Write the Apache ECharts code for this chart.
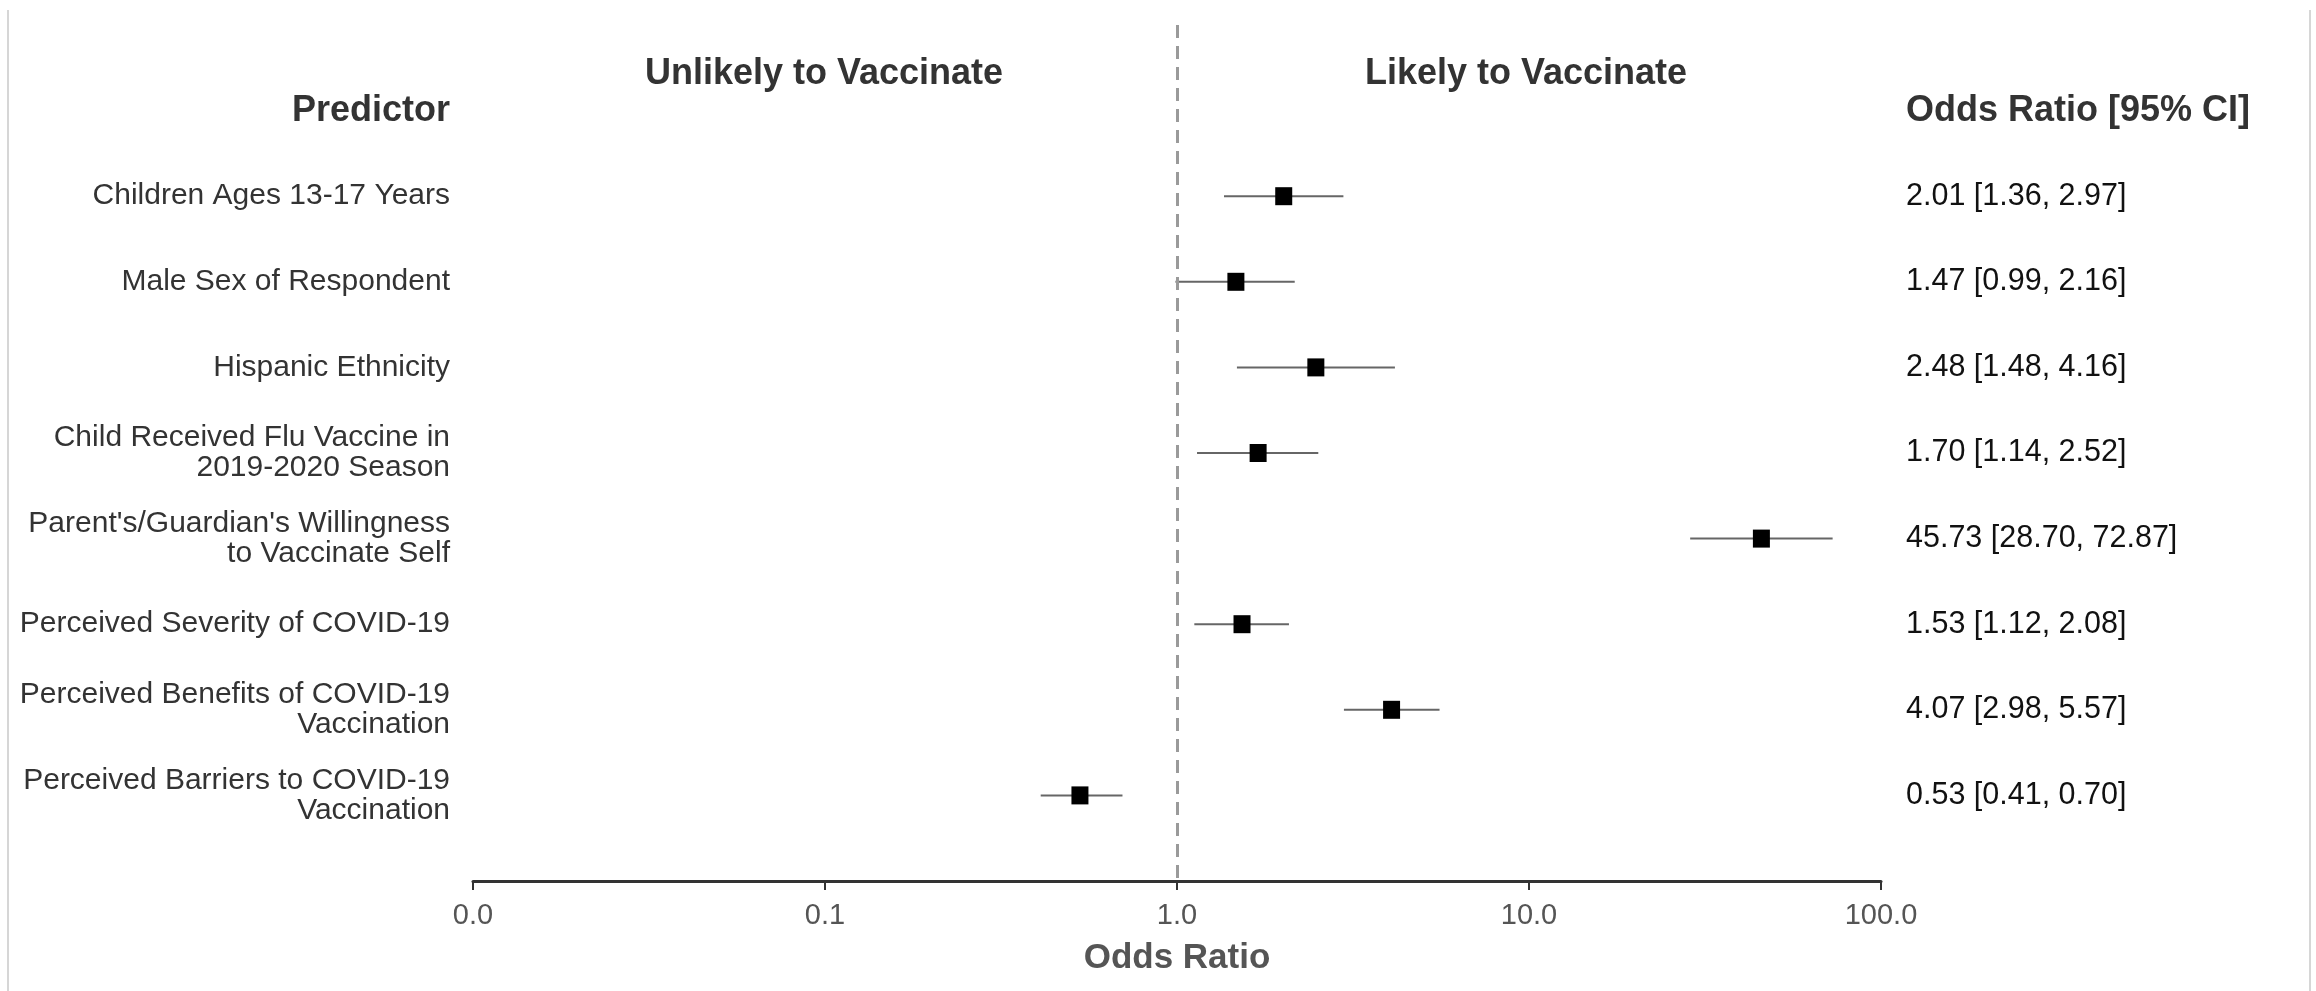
<!DOCTYPE html>
<html>
<head>
<meta charset="utf-8">
<title>Odds Ratio forest plot</title>
<script src="https://cdn.jsdelivr.net/npm/echarts@6/dist/echarts.min.js"></script>
<style>
  html, body { margin: 0; padding: 0; background: #fff; }
  #chart { width: 2316px; height: 991px; }
</style>
</head>
<body>
<div id="chart"></div>
<script>
// Predictors, top to bottom
const predictors = [
  'Children Ages 13-17 Years',
  'Male Sex of Respondent',
  'Hispanic Ethnicity',
  'Child Received Flu Vaccine in\n2019-2020 Season',
  "Parent's/Guardian's Willingness\nto Vaccinate Self",
  'Perceived Severity of COVID-19',
  'Perceived Benefits of COVID-19\nVaccination',
  'Perceived Barriers to COVID-19\nVaccination'
];
// Odds ratios and 95% confidence limits
const oddsRatio = [2.01, 1.47, 2.48, 1.70, 45.73, 1.53, 4.07, 0.53];
const ciLower   = [1.36, 0.99, 1.48, 1.14, 28.70, 1.12, 2.98, 0.41];
const ciUpper   = [2.97, 2.16, 4.16, 2.52, 72.87, 2.08, 5.57, 0.70];
// Odds-ratio axis range (log scale)
const xMin = 0.01, xMax = 100;

const FONT = '"Liberation Sans", Arial, Helvetica, sans-serif';
const TEXT = '#333333';

const rows = predictors.map((_, i) => i + 1);
const ciText = oddsRatio.map((v, i) =>
  v.toFixed(2) + ' [' + ciLower[i].toFixed(2) + ', ' + ciUpper[i].toFixed(2) + ']');

const chart = echarts.init(document.getElementById('chart'), null, { renderer: 'canvas' });

const yCommon = {
  type: 'value', inverse: true, min: -1, max: 9, interval: 1,
  axisLine: { show: false }, axisTick: { show: false }, splitLine: { show: false }
};

chart.setOption({
  backgroundColor: '#ffffff',
  animation: false,
  textStyle: { fontFamily: FONT },
  grid: { left: 473, right: 435, top: 25, bottom: 110, containLabel: false },
  graphic: [
    { type: 'line', shape: { x1: 8, y1: 10, x2: 8, y2: 991 }, style: { stroke: '#d6d6d6', lineWidth: 2 } },
    { type: 'line', shape: { x1: 2310, y1: 10, x2: 2310, y2: 991 }, style: { stroke: '#d6d6d6', lineWidth: 2 } },
    { type: 'text', x: 824, y: 74, style: { text: 'Unlikely to Vaccinate', font: 'bold 36px ' + FONT, fill: TEXT, textAlign: 'center', textVerticalAlign: 'middle' } },
    { type: 'text', x: 1526, y: 74, style: { text: 'Likely to Vaccinate', font: 'bold 36px ' + FONT, fill: TEXT, textAlign: 'center', textVerticalAlign: 'middle' } }
  ],
  xAxis: {
    type: 'log', logBase: 10, min: xMin, max: xMax, position: 'bottom',
    name: 'Odds Ratio', nameLocation: 'middle', nameGap: 60,
    nameTextStyle: { fontFamily: FONT, fontSize: 35, fontWeight: 'bold', color: '#555555' },
    axisLine: { onZero: false, lineStyle: { color: '#333333', width: 3 } },
    axisTick: { length: 9, lineStyle: { color: '#333333', width: 2 } },
    axisLabel: { margin: 20, fontSize: 29, color: '#555555', fontFamily: FONT,
      formatter: v => Number(v).toFixed(1) },
    splitLine: { show: false }
  },
  yAxis: [
    Object.assign({}, yCommon, {
      position: 'left',
      axisLabel: {
        margin: 23, align: 'right', fontSize: 30, lineHeight: 30, color: TEXT, fontFamily: FONT,
        formatter: v => v === 0 ? '{h|Predictor}' : (predictors[v - 1] || ''),
        rich: { h: { fontSize: 36, fontWeight: 'bold', color: TEXT, fontFamily: FONT } }
      }
    }),
    Object.assign({}, yCommon, {
      position: 'right',
      axisLabel: {
        margin: 25, align: 'left', fontSize: 30.5, color: '#111111', fontFamily: FONT,
        formatter: v => v === 0 ? '{h|Odds Ratio [95% CI]}' : (ciText[v - 1] || ''),
        rich: { h: { fontSize: 36, fontWeight: 'bold', color: TEXT, fontFamily: FONT } }
      }
    })
  ],
  series: [
    {
      // 95% confidence interval whiskers
      type: 'custom',
      yAxisIndex: 0,
      data: rows.map((r, i) => [ciLower[i], ciUpper[i], r]),
      renderItem: (params, api) => {
        const a = api.coord([api.value(0), api.value(2)]);
        const b = api.coord([api.value(1), api.value(2)]);
        return {
          type: 'line',
          shape: { x1: a[0], y1: a[1], x2: b[0], y2: b[1] },
          style: { stroke: '#666666', lineWidth: 2 }
        };
      },
      encode: { x: [0, 1], y: 2 },
      z: 2
    },
    {
      // Point estimates
      type: 'scatter',
      yAxisIndex: 0,
      symbol: 'rect',
      symbolSize: [17, 18],
      itemStyle: { color: '#000000', opacity: 1 },
      data: rows.map((r, i) => [oddsRatio[i], r]),
      z: 3,
      markLine: {
        silent: true, symbol: 'none', label: { show: false },
        lineStyle: { color: '#9a9a9a', type: [13, 8], width: 3 },
        data: [{ xAxis: 1 }]
      }
    }
  ]
});
</script>
</body>
</html>
